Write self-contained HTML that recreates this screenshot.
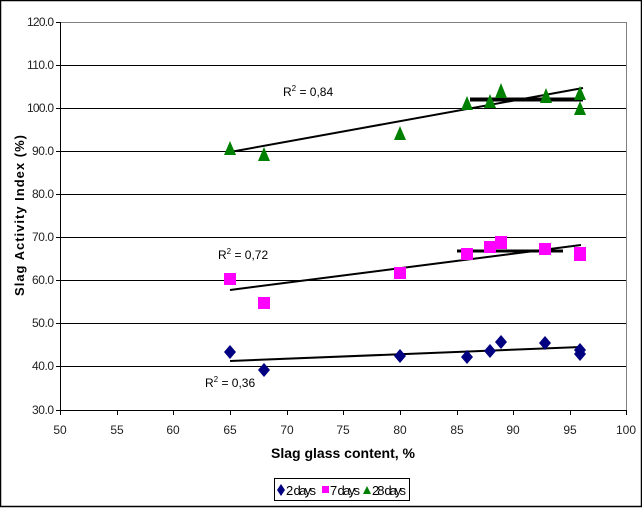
<!DOCTYPE html>
<html><head><meta charset="utf-8"><style>
html,body{margin:0;padding:0;background:#fff}
svg{display:block}
text{font-family:"Liberation Sans",sans-serif}
</style></head><body>
<svg width="642" height="508" viewBox="0 0 642 508" xmlns="http://www.w3.org/2000/svg">
<rect x="0.5" y="0.5" width="641" height="506" fill="#fff" stroke="#000" stroke-width="1.5"/>
<rect x="60.5" y="22.5" width="566" height="388" fill="#fff" stroke="#808080" stroke-width="1"/>
<g stroke="#000" stroke-width="1">
<line x1="60" y1="65.5" x2="626" y2="65.5"/>
<line x1="60" y1="108.5" x2="626" y2="108.5"/>
<line x1="60" y1="151.5" x2="626" y2="151.5"/>
<line x1="60" y1="194.5" x2="626" y2="194.5"/>
<line x1="60" y1="237.5" x2="626" y2="237.5"/>
<line x1="60" y1="280.5" x2="626" y2="280.5"/>
<line x1="60" y1="323.5" x2="626" y2="323.5"/>
<line x1="60" y1="366.5" x2="626" y2="366.5"/>
<line x1="60.5" y1="22" x2="60.5" y2="411"/>
<line x1="60" y1="410.5" x2="627" y2="410.5"/>
</g>
<g stroke="#000" stroke-width="1">
<line x1="56" y1="22.5" x2="60" y2="22.5"/><line x1="56" y1="65.5" x2="60" y2="65.5"/><line x1="56" y1="108.5" x2="60" y2="108.5"/><line x1="56" y1="151.5" x2="60" y2="151.5"/><line x1="56" y1="194.5" x2="60" y2="194.5"/><line x1="56" y1="237.5" x2="60" y2="237.5"/><line x1="56" y1="280.5" x2="60" y2="280.5"/><line x1="56" y1="323.5" x2="60" y2="323.5"/><line x1="56" y1="366.5" x2="60" y2="366.5"/><line x1="56" y1="410.5" x2="60" y2="410.5"/>
<line x1="60.5" y1="410" x2="60.5" y2="415"/><line x1="117.5" y1="410" x2="117.5" y2="415"/><line x1="173.5" y1="410" x2="173.5" y2="415"/><line x1="230.5" y1="410" x2="230.5" y2="415"/><line x1="287.5" y1="410" x2="287.5" y2="415"/><line x1="343.5" y1="410" x2="343.5" y2="415"/><line x1="400.5" y1="410" x2="400.5" y2="415"/><line x1="457.5" y1="410" x2="457.5" y2="415"/><line x1="513.5" y1="410" x2="513.5" y2="415"/><line x1="570.5" y1="410" x2="570.5" y2="415"/><line x1="626.5" y1="410" x2="626.5" y2="415"/>
</g>
<g font-size="12" fill="#222" text-anchor="end">
<text x="54" y="26" textLength="27">120.0</text><text x="54" y="69" textLength="27">110.0</text><text x="54" y="112" textLength="27">100.0</text><text x="54" y="155" textLength="22">90.0</text><text x="54" y="198" textLength="22">80.0</text><text x="54" y="241" textLength="22">70.0</text><text x="54" y="284" textLength="22">60.0</text><text x="54" y="327" textLength="22">50.0</text><text x="54" y="370" textLength="22">40.0</text><text x="54" y="414" textLength="22">30.0</text>
</g>
<g font-size="12" fill="#222" text-anchor="middle">
<text x="60" y="434">50</text><text x="117" y="434">55</text><text x="173" y="434">60</text><text x="230" y="434">65</text><text x="287" y="434">70</text><text x="343" y="434">75</text><text x="400" y="434">80</text><text x="457" y="434">85</text><text x="513" y="434">90</text><text x="570" y="434">95</text><text x="626" y="434">100</text>
</g>
<text x="343" y="458" font-size="14" font-weight="bold" text-anchor="middle">Slag glass content, %</text>
<text transform="translate(24,215) rotate(-90)" font-size="13" font-weight="bold" text-anchor="middle" letter-spacing="1">Slag Activity Index (%)</text>
<g stroke="#000">
<line x1="230" y1="361" x2="581" y2="347" stroke-width="2"/>
<line x1="230" y1="290" x2="581" y2="245" stroke-width="2"/>
<line x1="457" y1="251" x2="563" y2="251" stroke-width="3"/>
<line x1="230" y1="152" x2="583" y2="88" stroke-width="2"/>
<line x1="470" y1="99.5" x2="583" y2="99.5" stroke-width="4"/>
</g>
<g fill="#000080">
<path d="M230 345l6 7-6 7-6-7z"/><path d="M264 363l6 7-6 7-6-7z"/><path d="M400 349l6 7-6 7-6-7z"/><path d="M467 350l6 7-6 7-6-7z"/><path d="M490 344l6 7-6 7-6-7z"/><path d="M501 335l6 7-6 7-6-7z"/><path d="M545 336l6 7-6 7-6-7z"/><path d="M580 343l6 7-6 7-6-7z"/><path d="M580 347l6 7-6 7-6-7z"/>
</g>
<g fill="#ff00ff">
<rect x="224" y="273" width="12" height="12"/><rect x="258" y="297" width="12" height="12"/><rect x="394" y="267" width="12" height="12"/><rect x="461" y="248" width="12" height="12"/><rect x="484" y="241" width="12" height="12"/><rect x="495" y="236" width="12" height="13"/><rect x="539" y="243" width="12" height="12"/><rect x="574" y="247" width="12" height="14"/>
</g>
<g fill="#008000">
<path d="M230 141l6 14h-12z"/><path d="M264 147l6 14h-12z"/><path d="M400 126l6 14h-12z"/><path d="M467 96l6 14h-12z"/><path d="M490 94l6 14h-12z"/><path d="M501 83l6 15h-12z"/><path d="M546 88l6 15h-12z"/><path d="M580 86l6 14h-12z"/><path d="M580 101l6 14h-12z"/>
</g>
<g font-size="12" fill="#000">
<text x="283" y="96">R<tspan dy="-5" font-size="8">2</tspan><tspan dy="5"> = 0,84</tspan></text>
<text x="218" y="259">R<tspan dy="-5" font-size="8">2</tspan><tspan dy="5"> = 0,72</tspan></text>
<text x="205" y="387">R<tspan dy="-5" font-size="8">2</tspan><tspan dy="5"> = 0,36</tspan></text>
</g>
<rect x="274.5" y="478.5" width="135" height="22" fill="#fff" stroke="#000" stroke-width="1"/>
<path d="M281 484l4 6-4 6-4-6z" fill="#000080"/>
<text x="286" y="495" font-size="13" textLength="30">2 days</text>
<rect x="322" y="486" width="7" height="7" fill="#ff00ff"/>
<text x="330" y="495" font-size="13" textLength="30">7 days</text>
<path d="M367 486l4 8h-8z" fill="#008000"/>
<text x="372" y="495" font-size="13" textLength="34">28 days</text>
</svg>
</body></html>
